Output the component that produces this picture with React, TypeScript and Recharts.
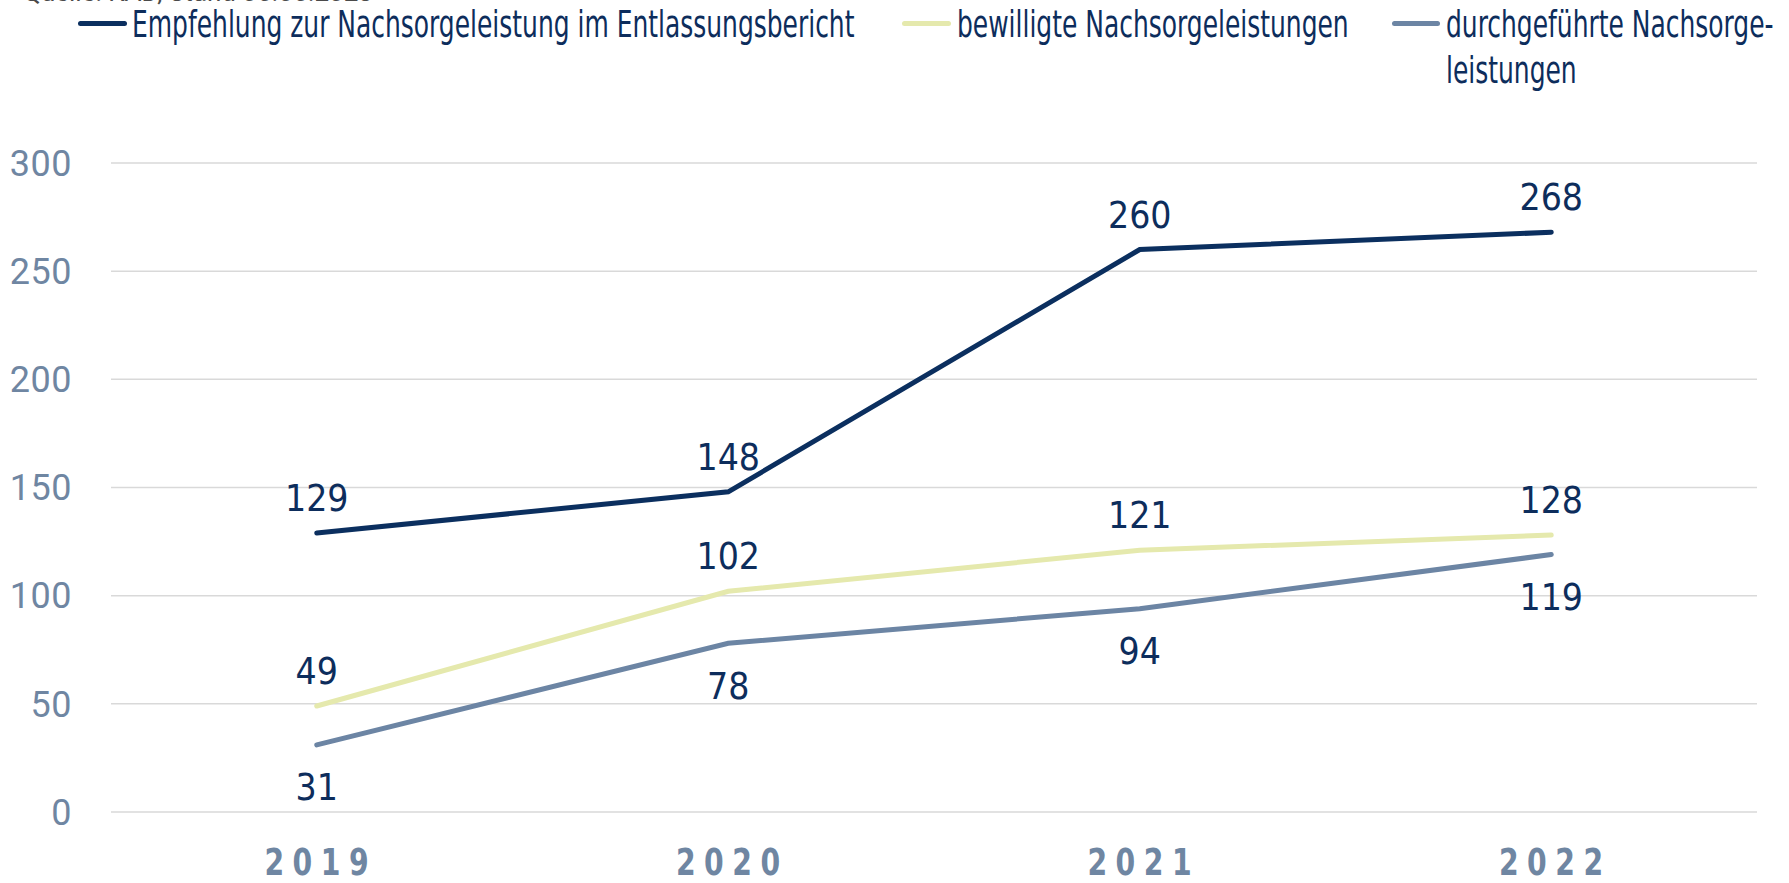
import { CartesianGrid, LabelList, Line, LineChart, XAxis, YAxis } from 'recharts';

const years = ['2019', '2020', '2021', '2022'];
const empfehlung = [129, 148, 260, 268];
const bewilligt = [49, 102, 121, 128];
const durchgefuehrt = [31, 78, 94, 119];
const yTicks = [0, 50, 100, 150, 200, 250, 300];

const NAVY = '#0b2f5f';
const PALE = '#e5e9ad';
const SLATE = '#6c85a4';
const TICK = '#6f86a2';
const NARROW = '"DejaVu Sans Condensed", "DejaVu Sans", sans-serif';

const data = years.map((year, i) => ({
  year,
  empfehlung: empfehlung[i],
  bewilligt: bewilligt[i],
  durchgefuehrt: durchgefuehrt[i],
}));

const legendItems = [
  { color: NAVY, lines: ['Empfehlung zur Nachsorgeleistung im Entlassungsbericht'], lineX: 78, lineW: 49, textX: 132 },
  { color: PALE, lines: ['bewilligte Nachsorgeleistungen'], lineX: 902, lineW: 49, textX: 957 },
  { color: SLATE, lines: ['durchgeführte Nachsorge-', 'leistungen'], lineX: 1392, lineW: 48, textX: 1446 },
];

const labelStyle = { fontFamily: NARROW, fontSize: 37, fill: '#0d2d5c' };

// year labels: bold, spaced out, slightly squeezed
function YearTick({ x, y, payload }: any) {
  return (
    <text
      transform={`translate(${x + 4},${y}) scale(0.85,1)`}
      textAnchor="middle"
      dy={57}
      fontFamily={NARROW}
      fontSize={37}
      fontWeight={700}
      fill={TICK}
      letterSpacing={10}
    >
      {payload.value}
    </text>
  );
}

export default function App() {
  return (
    <div style={{ position: 'absolute', left: 0, top: 0, width: 1789, height: 883, background: '#fff', overflow: 'hidden' }}>
      <div style={{ position: 'absolute', left: 23, top: -23, fontFamily: 'Roboto, sans-serif', fontSize: 26, color: '#4a4a4a', whiteSpace: 'nowrap' }}>
        Quelle: KAD, Stand 05.05.2023
      </div>
      {legendItems.map(item => (
        <div key={item.textX}>
          <div style={{ position: 'absolute', left: item.lineX, top: 21, width: item.lineW, height: 5, borderRadius: 3, background: item.color }} />
          <div style={{ position: 'absolute', left: item.textX, top: 1, fontFamily: NARROW, fontSize: 38, lineHeight: '46px', color: '#0d2d5c', whiteSpace: 'nowrap', transform: 'scaleX(0.73)', transformOrigin: 'left top' }}>
            {item.lines.map(l => <div key={l}>{l}</div>)}
          </div>
        </div>
      ))}
      <LineChart width={1789} height={883} data={data} margin={{ top: 163, right: 32, left: 0, bottom: 0 }}>
        <CartesianGrid vertical={false} stroke="#d9d9d9" strokeWidth={1.5} />
        <XAxis
          dataKey="year"
          scale="band"
          height={71}
          axisLine={false}
          tickLine={false}
          tickSize={0}
          tickMargin={6}
          tick={<YearTick />}
        />
        <YAxis
          width={111}
          domain={[0, 300]}
          ticks={yTicks}
          axisLine={false}
          tickLine={false}
          tickSize={0}
          tickMargin={39}
          tick={{ fontFamily: 'Roboto, sans-serif', fontSize: 36, fill: TICK, letterSpacing: 0.5 }}
        />
        <Line dataKey="empfehlung" stroke={NAVY} strokeWidth={5} dot={false} strokeLinecap="round" isAnimationActive={false}>
          <LabelList dataKey="empfehlung" position="top" offset={22} style={labelStyle} />
        </Line>
        <Line dataKey="bewilligt" stroke={PALE} strokeWidth={5} dot={false} strokeLinecap="round" isAnimationActive={false}>
          <LabelList dataKey="bewilligt" position="top" offset={22} style={labelStyle} />
        </Line>
        <Line dataKey="durchgefuehrt" stroke={SLATE} strokeWidth={5} dot={false} strokeLinecap="round" isAnimationActive={false}>
          <LabelList dataKey="durchgefuehrt" position="bottom" offset={29} style={labelStyle} />
        </Line>
      </LineChart>
    </div>
  );
}
